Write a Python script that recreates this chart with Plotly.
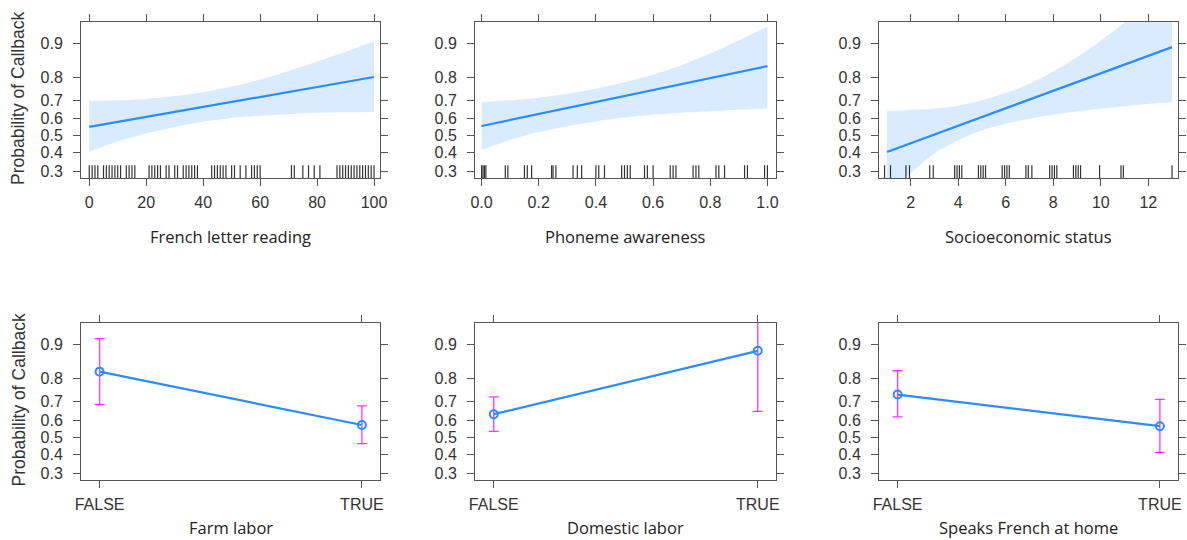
import numpy as np
import plotly.graph_objects as go

# ---------------- data ----------------
prob_ticks = [0.3, 0.4, 0.5, 0.6, 0.7, 0.8, 0.9]
prob_ticktext = ["0.3", "0.4", "0.5", "0.6", "0.7", "0.8", "0.9"]

french_x = [0, 10, 20, 30, 40, 50, 60, 70, 80, 90, 100]
french_upper = [0.696, 0.699, 0.706, 0.720, 0.738, 0.763, 0.792, 0.824, 0.854, 0.881, 0.904]
french_lower = [0.404, 0.465, 0.513, 0.551, 0.582, 0.603, 0.616, 0.625, 0.633, 0.636, 0.638]
french_fit_x = [0, 100]
french_fit = [0.552, 0.802]
french_ticks = [0, 20, 40, 60, 80, 100]
french_rug = [0, 1, 2, 3, 5, 6, 7, 8, 9, 10, 11, 13, 14, 15, 16, 21, 22, 23, 24, 25,
              27, 28, 30, 31, 33, 34, 35, 36, 37, 38, 43, 44, 45, 46, 47, 48, 50, 51,
              53, 55, 57, 58, 59, 60, 71, 72, 75, 77, 79, 81, 87, 88, 89, 90, 91, 92,
              93, 94, 95, 96, 97, 98, 99, 100]

phon_x = [0.0, 0.1, 0.2, 0.3, 0.4, 0.5, 0.6, 0.7, 0.8, 0.9, 1.0]
phon_upper = [0.690, 0.699, 0.712, 0.731, 0.754, 0.781, 0.811, 0.843, 0.877, 0.907, 0.931]
phon_lower = [0.414, 0.474, 0.521, 0.556, 0.584, 0.606, 0.622, 0.633, 0.641, 0.649, 0.656]
phon_fit_x = [0.0, 1.0]
phon_fit = [0.557, 0.840]
phon_ticks = [0.0, 0.2, 0.4, 0.6, 0.8, 1.0]
phon_ticktext = ["0.0", "0.2", "0.4", "0.6", "0.8", "1.0"]
phon_rug = [0.0, 0.005, 0.01, 0.015, 0.083, 0.092, 0.15, 0.16, 0.175, 0.245, 0.25, 0.26,
            0.32, 0.335, 0.35, 0.40, 0.41, 0.43, 0.49, 0.50, 0.51, 0.52, 0.57, 0.58, 0.60,
            0.66, 0.67, 0.68, 0.74, 0.75, 0.76, 0.82, 0.83, 0.85, 0.92, 0.93, 0.99, 1.0]

ses_x = [1, 2, 3, 4, 5, 6, 7, 8, 9, 10, 11, 12, 13]
ses_upper = [0.643, 0.648, 0.656, 0.671, 0.699, 0.735, 0.775, 0.822, 0.867, 0.906, 0.937, 0.959, 0.974]
ses_lower = [0.204, 0.290, 0.395, 0.472, 0.532, 0.571, 0.600, 0.622, 0.640, 0.655, 0.668, 0.680, 0.690]
ses_fit_x = [1, 13]
ses_fit = [0.404, 0.892]
ses_ticks = [2, 4, 6, 8, 10, 12]
ses_rug = [0.9, 1.15, 1.8, 1.95, 2.8, 2.95, 3.85, 3.95, 4.05, 4.15, 4.85, 4.95, 5.05, 5.15,
           5.85, 5.95, 6.05, 6.15, 6.85, 6.95, 7.1, 7.85, 7.95, 8.05, 8.15, 8.85, 8.95,
           9.05, 9.15, 9.95, 10.85, 10.95, 13.0]

cat_labels = ["FALSE", "TRUE"]
farm_fit = [0.826, 0.573]
farm_lower = [0.685, 0.463]
farm_upper = [0.912, 0.678]
domestic_fit = [0.634, 0.886]
domestic_lower = [0.536, 0.649]
domestic_upper = [0.723, 0.975]
speaks_fit = [0.734, 0.566]
speaks_lower = [0.619, 0.412]
speaks_upper = [0.829, 0.711]

x_titles = ["French letter reading", "Phoneme awareness", "Socioeconomic status",
            "Farm labor", "Domestic labor", "Speaks French at home"]
y_title = "Probability of Callback"


def logit(p):
    p = np.asarray(p, dtype=float)
    return np.log(p / (1 - p))


# ---------------- style ----------------
W, H = 1187, 540
LINE = "#2b8cff"
BAND = "rgba(0,128,255,0.15)"
ERR = "#ff33ff"
AXC = "#555555"
TICKFONT = dict(family="Liberation Sans, Arial, sans-serif", size=16, color="#333333")
TITLEFONT = dict(family="Open Sans, sans-serif", size=16.5, color="#222222")

col_px = [(81, 380), (475, 776), (879, 1178)]
row_px = [(22, 178), (323, 480)]
y_range = [-1.01, 2.71]

fig = go.Figure()
layout = dict(width=W, height=H, autosize=False, margin=dict(l=0, r=0, t=0, b=0),
              paper_bgcolor="white", plot_bgcolor="white", showlegend=False)

panels = [
    ("cont", french_x, french_upper, french_lower, french_fit_x, french_fit, french_rug,
     french_ticks, [str(t) for t in french_ticks], [-2.9, 102.1]),
    ("cont", phon_x, phon_upper, phon_lower, phon_fit_x, phon_fit, phon_rug,
     phon_ticks, phon_ticktext, [-0.023, 1.030]),
    ("cont", ses_x, ses_upper, ses_lower, ses_fit_x, ses_fit, ses_rug,
     ses_ticks, [str(t) for t in ses_ticks], [0.666, 13.25]),
    ("cat", farm_fit, farm_lower, farm_upper),
    ("cat", domestic_fit, domestic_lower, domestic_upper),
    ("cat", speaks_fit, speaks_lower, speaks_upper),
]

shapes = []
annotations = []

for i, p in enumerate(panels):
    n = i + 1
    r, c = divmod(i, 3)
    xs = "" if n == 1 else str(n)
    xref, yref = "x" + xs, "y" + xs
    x0, x1 = col_px[c]
    yt, yb = row_px[r]
    xdom = [x0 / W, x1 / W]
    ydom = [1 - yb / H, 1 - yt / H]

    if p[0] == "cont":
        _, bx, bu, bl, fx, fv, rug, tv, tt, xr = p
        fig.add_trace(go.Scatter(x=bx, y=logit(bu), mode="lines", line=dict(width=0, shape="spline", smoothing=0.8),
                                 xaxis=xref, yaxis=yref, hoverinfo="skip"))
        fig.add_trace(go.Scatter(x=bx, y=logit(bl), mode="lines", line=dict(width=0, shape="spline", smoothing=0.8),
                                 fill="tonexty", fillcolor=BAND, xaxis=xref, yaxis=yref, hoverinfo="skip"))
        fig.add_trace(go.Scatter(x=fx, y=logit(fv), mode="lines", line=dict(color=LINE, width=2.2),
                                 xaxis=xref, yaxis=yref))
        for v in rug:
            shapes.append(dict(type="line", xref=xref, yref=yref + " domain", x0=v, x1=v,
                               y0=0, y1=0.082, line=dict(color="rgba(0,0,0,0.8)", width=1.2)))
    else:
        _, fv, lo, up = p
        fl = logit(fv)
        fig.add_trace(go.Scatter(
            x=[0, 1], y=fl, mode="lines+markers",
            line=dict(color=LINE, width=2.2),
            marker=dict(symbol="circle-open", size=8, color=LINE, line=dict(width=2)),
            error_y=dict(type="data", symmetric=False, array=logit(up) - fl,
                         arrayminus=fl - logit(lo), color=ERR, thickness=1.3, width=5),
            xaxis=xref, yaxis=yref))
        tv, tt, xr = [0, 1], cat_labels, [-0.071, 1.069]

    common = dict(showline=True, linecolor=AXC, linewidth=1, mirror="allticks",
                  ticks="outside", ticklen=7, tickcolor=AXC, tickwidth=1,
                  showgrid=False, zeroline=False, tickfont=TICKFONT, automargin=False)
    layout["xaxis" + xs] = dict(domain=xdom, range=xr, tickvals=tv, ticktext=tt,
                                anchor=yref, ticklabelstandoff=3, **common)
    layout["yaxis" + xs] = dict(domain=ydom, range=y_range, tickvals=list(logit(prob_ticks)),
                                ticktext=prob_ticktext, anchor=xref, ticklabelstandoff=7, **common)

    title_y = yb + (58 if r == 0 else 47)
    annotations.append(dict(text=x_titles[i], x=(x0 + x1) / 2 / W, y=1 - title_y / H,
                            xref="paper", yref="paper", showarrow=False,
                            xanchor="center", yanchor="middle", font=TITLEFONT))
    if c == 0:
        annotations.append(dict(text=y_title, x=18 / W, y=1 - ((yt + yb) / 2 - 1) / H,
                                xref="paper", yref="paper", showarrow=False, textangle=-90,
                                xanchor="center", yanchor="middle",
                                font=dict(family="Liberation Sans, Arial, sans-serif",
                                          size=17.5, color="#333333")))

layout["shapes"] = shapes
layout["annotations"] = annotations
fig.update_layout(**layout)
fig.write_html("out.html")
